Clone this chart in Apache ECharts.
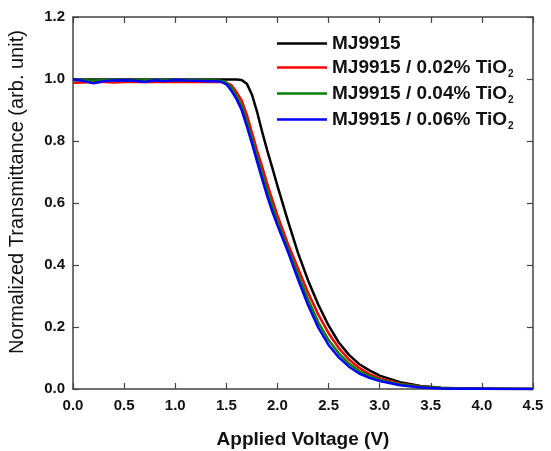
<!DOCTYPE html>
<html>
<head>
<meta charset="utf-8">
<script src="https://cdn.jsdelivr.net/npm/echarts@6/dist/echarts.min.js"></script>
<style>
html,body{margin:0;padding:0;background:#fff;}
#chart{width:551px;height:451px;}
</style>
</head>
<body>
<div id="chart"></div>
<script>
// Applied voltage (V)
const voltage = [0,0.1,0.2,0.3,0.4,0.5,0.6,0.7,0.8,0.9,1.0,1.1,1.2,1.3,1.4,1.45,1.5,1.55,1.6,1.65,1.7,1.75,1.8,1.85,1.9,1.95,2.0,2.1,2.2,2.3,2.4,2.5,2.6,2.7,2.8,2.9,3.0,3.2,3.4,3.6,3.8,4.0,4.25,4.5];

const mj9915 = [0.998,0.998,0.998,0.998,0.998,0.998,0.998,0.998,0.998,0.998,0.998,0.998,0.998,0.998,0.998,
  0.998,0.998,0.998,0.998,0.997,0.985,0.95,0.895,0.83,0.77,0.713,0.655,
  0.545,0.44,0.35,0.272,0.205,0.15,0.11,0.08,0.06,0.043,
  0.022,0.01,0.004,0.002,0.001,0.0005,0];

const tio002 = [0.988,0.989,0.99,0.99,0.989,0.99,0.99,0.991,0.99,0.99,0.991,0.99,0.991,0.99,0.99,
  0.99,0.988,0.98,0.958,0.93,0.885,0.828,0.77,0.717,0.662,0.61,0.56,
  0.47,0.39,0.31,0.24,0.18,0.132,0.095,0.068,0.048,0.034,
  0.017,0.008,0.003,0.0015,0.0008,0.0003,0];

const tio004 = [0.996,0.996,0.995,0.996,0.997,0.996,0.995,0.996,0.997,0.996,0.995,0.996,0.996,0.995,0.995,
  0.994,0.988,0.972,0.945,0.912,0.865,0.808,0.75,0.695,0.64,0.59,0.54,
  0.455,0.37,0.288,0.215,0.158,0.115,0.082,0.058,0.042,0.03,
  0.015,0.007,0.003,0.0015,0.0008,0.0003,0];

const tio006 = [0.998,0.994,0.986,0.993,0.995,0.996,0.994,0.99,0.996,0.993,0.997,0.995,0.994,0.993,0.993,
  0.991,0.983,0.962,0.935,0.9,0.848,0.793,0.735,0.678,0.622,0.572,0.528,
  0.445,0.355,0.27,0.198,0.142,0.102,0.072,0.05,0.036,0.026,
  0.012,0.005,0.002,0.001,0.0005,0.0002,0];

const seriesNames = ['MJ9915','MJ9915 / 0.02% TiO2','MJ9915 / 0.04% TiO2','MJ9915 / 0.06% TiO2'];
const seriesValues = [mj9915, tio002, tio004, tio006];
const seriesColors = ['#000000','#ff0000','#008000','#0000ff'];

const FONT = '"Liberation Sans", Arial, sans-serif';

const chart = echarts.init(document.getElementById('chart'), null, {renderer:'canvas'});

const axisLineStyle = {color:'#444', width:1.5};
const tickCommon = {show:true, inside:true, length:6, lineStyle:{color:'#444', width:1.2}};

const option = {
  animation:false,
  backgroundColor:'#fff',
  grid:{left:73, right:18, top:17, bottom:62, containLabel:false, outerBoundsMode:'none'},
  legend:{
    orient:'vertical',
    left:272, top:29,
    itemWidth:50, itemHeight:14, itemGap:5,
    icon:'path://M0,6 L50,6 L50,8.5 L0,8.5 Z',
    textStyle:{
      fontFamily:FONT, fontSize:19, fontWeight:'bold', color:'#111',
      rich:{
        b:{fontFamily:FONT, fontSize:19, fontWeight:'bold', color:'#111'},
        sub:{fontFamily:FONT, fontSize:10, fontWeight:'bold', color:'#111', padding:[13,0,0,1], verticalAlign:'bottom'}
      }
    },
    formatter:function(name){
      if(name.endsWith('TiO2')) return '{b|' + name.slice(0,-1) + '}{sub|2}';
      return '{b|' + name + '}';
    },
    data:seriesNames
  },
  xAxis:[{
    type:'value', min:0, max:4.5, interval:0.5,
    name:'Applied Voltage (V)', nameLocation:'middle', nameGap:41,
    nameTextStyle:{fontFamily:FONT, fontSize:19, fontWeight:'bold', color:'#111'},
    axisLine:{show:true, onZero:false, lineStyle:axisLineStyle},
    axisTick:tickCommon,
    axisLabel:{fontFamily:FONT, fontSize:15, fontWeight:'bold', color:'#111', margin:9,
      formatter:v=>v.toFixed(1)},
    splitLine:{show:false}
  },{
    type:'value', min:0, max:4.5, interval:0.5, position:'top',
    axisLine:{show:true, onZero:false, lineStyle:axisLineStyle},
    axisTick:tickCommon, axisLabel:{show:false}, splitLine:{show:false}
  }],
  yAxis:[{
    type:'value', min:0, max:1.2, interval:0.2,
    name:'Normalized Transmittance (arb. unit)', nameLocation:'middle', nameGap:46,
    nameTextStyle:{fontFamily:FONT, fontSize:20, color:'#111', padding:[0,0,0,22]},
    axisLine:{show:true, onZero:false, lineStyle:axisLineStyle},
    axisTick:tickCommon,
    axisLabel:{fontFamily:FONT, fontSize:15, fontWeight:'bold', color:'#111', margin:8,
      formatter:v=>v.toFixed(1)},
    splitLine:{show:false}
  },{
    type:'value', min:0, max:1.2, interval:0.2, position:'right',
    axisLine:{show:true, onZero:false, lineStyle:axisLineStyle},
    axisTick:tickCommon, axisLabel:{show:false}, splitLine:{show:false}
  }],
  series: seriesNames.map((name,i)=>({
    name:name,
    type:'line',
    xAxisIndex:0, yAxisIndex:0,
    symbol:'none',
    smooth:false,
    color:seriesColors[i],
    lineStyle:{color:seriesColors[i], width:2.5, join:'round'},
    data: voltage.map((v,j)=>[v, seriesValues[i][j]])
  }))
};
chart.setOption(option);
</script>
</body>
</html>
